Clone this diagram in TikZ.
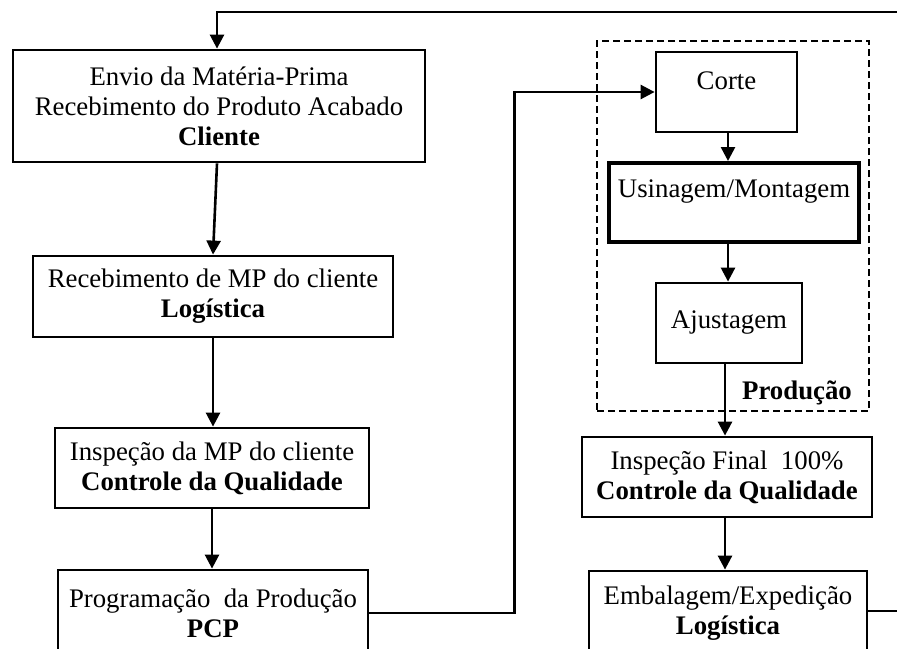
\documentclass[tikz,border=0pt]{standalone}
\usepackage{fontspec}
\usepackage{tikz}
\usetikzlibrary{arrows.meta}
\setmainfont{Liberation Serif}

\begin{document}
\begin{tikzpicture}[
    x=0.5pt, y=-0.5pt,
    font=\fontsize{13.4}{15}\selectfont,
    step box/.style={draw, line width=1.4pt, rectangle, align=center, inner sep=0pt},
    sector/.style={draw, line width=1.4pt, dash pattern=on 3.5pt off 2pt, rectangle, inner sep=0pt},
    arrow/.style={-{Triangle[length=7pt,width=7pt]}, line width=1.3pt},
    link/.style={line width=1.3pt}
]
\useasboundingbox (0,0) rectangle (897,648);
\clip (0,0) rectangle (897,648);

% Left column
\node[step box, minimum width=206pt, minimum height=56pt] (cliente) at (219,106)
    {Envio da Matéria-Prima\\Recebimento do Produto Acabado\\\textbf{Cliente}};
\node[step box, minimum width=180pt, minimum height=40.5pt] (receb) at (213,296.5)
    {Recebimento de MP do cliente\\\textbf{Logística}};
\node[step box, minimum width=157pt, minimum height=40pt] (inspmp) at (212,468)
    {Inspeção da MP do cliente\\\textbf{Controle da Qualidade}};
\node[step box, minimum width=155pt, minimum height=43pt] (pcp) at (213,613)
    {Programação\ \ da Produção\\\textbf{PCP}};

% Production sector
\node[sector, minimum width=136pt, minimum height=185pt] (producao) at (733,226) {};
\node[font=\fontsize{13.4}{15}\selectfont\bfseries] (producaolbl) at (797,393) {Produção};
\node[step box, minimum width=70.5pt, text height=18.5pt, text depth=21.5pt] (corte) at (726.5,92) {Corte};
\node[step box, line width=2pt, minimum width=125pt, text height=17pt, text depth=22.5pt] (usinagem) at (734,202.5) {Usinagem/Montagem};
\node[step box, minimum width=73pt, minimum height=40pt] (ajustagem) at (729,323) {Ajustagem};

% Right column
\node[step box, minimum width=145pt, minimum height=40pt] (inspfinal) at (727,477)
    {Inspeção Final\ \ 100\%\\\textbf{Controle da Qualidade}};
\node[step box, minimum width=139pt, minimum height=42pt] (embalagem) at (728,613)
    {Embalagem/Expedição\\\textbf{Logística}};

% Return loop (leaves the picture at the right)
\coordinate (loopin) at (905,12);
\coordinate (loopout) at (905,611);

% Connections
\draw[arrow] (loopin) -| ([xshift=-1pt]cliente.north);
\draw[arrow] ([xshift=-1pt]cliente.south) -- (receb.north);
\draw[arrow] (receb.south) -- (receb.south |- inspmp.north);
\draw[arrow] (inspmp.south) -- (inspmp.south |- pcp.north);
\draw[arrow] (pcp.east) -- ++(145,0) |- (corte.west);
\draw[arrow] ([xshift=0.75pt]corte.south) -- ([xshift=0.75pt]corte.south |- usinagem.north);
\draw[arrow] ([xshift=-0.5pt]ajustagem.north |- usinagem.south) -- ([xshift=-0.5pt]ajustagem.north);
\draw[arrow] ([xshift=-2pt]ajustagem.south) -- ([xshift=-2pt]ajustagem.south |- inspfinal.north);
\draw[arrow] ([xshift=-1pt]inspfinal.south) -- ([xshift=-1pt]inspfinal.south |- embalagem.north);
\draw[link] (embalagem.east |- loopout) -- (loopout);

\end{tikzpicture}
\end{document}
